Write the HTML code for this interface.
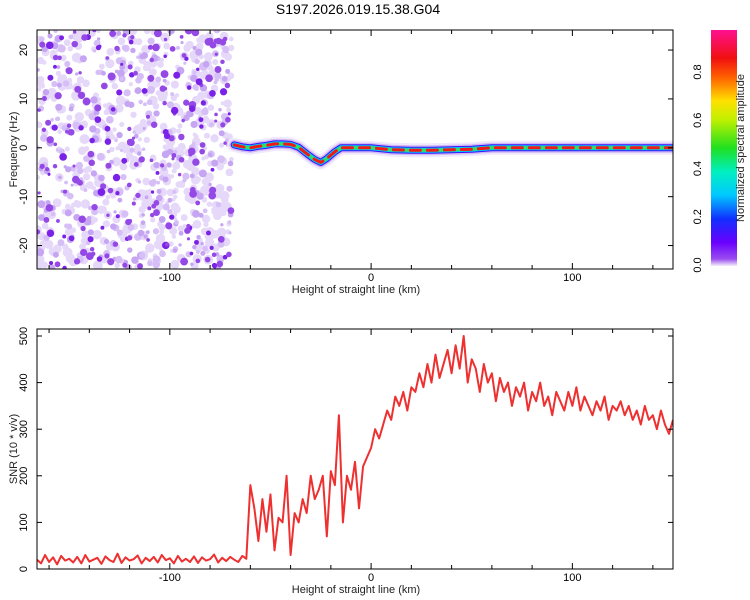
<!DOCTYPE html>
<html><head><meta charset="utf-8">
<style>
body{margin:0;background:#fff;}
svg{display:block;font-family:"Liberation Sans",sans-serif;}
</style></head>
<body>
<svg id="chart" width="750" height="600">
<defs>
<linearGradient id="cbar" x1="0" y1="1" x2="0" y2="0">
<stop offset="0" stop-color="#f4eefc"/><stop offset="0.03" stop-color="#9a4cf0"/>
<stop offset="0.1" stop-color="#6a00ff"/><stop offset="0.2" stop-color="#1030ff"/>
<stop offset="0.3" stop-color="#00c8ff"/><stop offset="0.4" stop-color="#00f0c0"/>
<stop offset="0.5" stop-color="#20e020"/><stop offset="0.62" stop-color="#c0f000"/>
<stop offset="0.7" stop-color="#ffe000"/><stop offset="0.8" stop-color="#ff6000"/>
<stop offset="0.88" stop-color="#f01010"/><stop offset="1" stop-color="#ff1090"/>
</linearGradient>
<clipPath id="clipTop"><rect x="37" y="30" width="636" height="239"/></clipPath>
<clipPath id="clipBot"><rect x="37" y="329" width="636" height="240"/></clipPath>
</defs>
<text x="358" y="14" font-size="14" text-anchor="middle">S197.2026.019.15.38.G04</text>
<g id="topPanel"></g>
<g id="botPanel"></g>
<g id="cbPanel"></g>
</svg>
<script>
// ---- data ----
const xTicks = [-100, 0, 100];
const freqTicks = [20, 10, 0, -10, -20];
const snrTicks = [0, 100, 200, 300, 400, 500];
const cbTicks = [0.0, 0.2, 0.4, 0.6, 0.8];
const trackHeight = [-68,-64,-60,-56,-52,-48,-44,-40,-36,-32,-28,-25,-22,-18,-15,-10,-5,0,10,20,30,40,50,60,70,80,90,100,110,120,130,140,150];
const trackFreq =   [0.6,0.2,0,0.3,0.5,0.8,0.8,0.7,0.1,-1.2,-2.4,-3.0,-2.2,-0.8,0,0,0,0,-0.4,-0.5,-0.5,-0.4,-0.3,0,0,0,0,0,0,0,0,0,0];
const snrHeight0 = -166, snrStep = 2;
const snrValues = [20,12,30,15,25,10,28,18,22,14,26,12,30,16,20,24,11,27,19,15,33,13,25,18,21,29,12,24,17,26,14,30,19,23,12,28,16,22,15,27,13,25,18,21,31,14,24,17,26,20,15,28,22,
180,130,60,150,80,160,40,110,100,200,30,120,100,150,120,200,150,170,200,70,210,180,330,100,200,170,230,130,220,240,260,300,280,310,340,320,370,350,380,340,390,380,420,390,440,400,460,410,440,470,420,480,430,500,400,450,430,380,440,400,420,360,410,380,400,350,390,370,400,340,380,360,400,350,370,330,380,360,340,380,350,390,340,370,350,330,360,340,370,320,350,340,360,330,350,320,340,310,350,320,330,300,340,310,290,320];

const NS='http://www.w3.org/2000/svg';
function mk(tag, attrs, parent){const e=document.createElementNS(NS,tag);for(const k in attrs)e.setAttribute(k,attrs[k]);parent.appendChild(e);return e;}
const X0=37,X1=673,XMIN=-166,XMAX=150;
const xs=v=>X0+(v-XMIN)/(XMAX-XMIN)*(X1-X0);
const fy=f=>30+(24.1-f)/(24.1+24.8)*239;
const sy=s=>569-s*0.466;
const topG=document.getElementById('topPanel'), botG=document.getElementById('botPanel'), cbG=document.getElementById('cbPanel');

// ---- noise texture (left region of spectrogram) ----
const noise=mk('g',{'clip-path':'url(#clipTop)'},topG);


let seed=7;const rnd=()=>{seed=(seed*16807)%2147483647;return seed/2147483647;};
const NX1=xs(-69);
for(let i=0;i<520;i++){const x=X0+rnd()*(NX1-X0),y=30+rnd()*239;
 mk('circle',{cx:x,cy:y,r:2+rnd()*3,fill:'#e6d8f9'},noise);}
for(let i=0;i<300;i++){const x=X0+rnd()*(NX1-X0),y=30+rnd()*239;
 mk('circle',{cx:x,cy:y,r:1.5+rnd()*2.5,fill:rnd()<0.5?'#c6a6f2':'#d6bef6'},noise);}
for(let i=0;i<220;i++){const x=X0+rnd()*(NX1-X0),y=30+rnd()*239;
 mk('circle',{cx:x,cy:y,r:1.5+rnd()*2.5,fill:rnd()<0.7?'#9448e6':'#7a22e8'},noise);}

// ---- frequency track ----
const pts=trackHeight.map((h,i)=>xs(h)+','+fy(trackFreq[i])).join(' ');
const layers=[['#f0e8fb',14],['#d2b8f4',10],['#3a10ff',7],['#00c8f0',5],['#30e060',3]];
layers.forEach((l,i)=>{const p=mk('polyline',{points:pts,fill:'none',stroke:l[0],'stroke-width':l[1],'stroke-linejoin':'round','stroke-linecap':'round','clip-path':'url(#clipTop)'},topG);
 
 });
const core=mk('polyline',{points:pts,fill:'none',stroke:'#f01818','stroke-width':3,'stroke-dasharray':'10 7','stroke-linecap':'round','clip-path':'url(#clipTop)'},topG);



// ---- axes frames ----
function frame(g,y0,y1,yTicks,yf,ylabel,name){
 const r=mk('rect',{x:X0,y:y0,width:X1-X0,height:y1-y0,fill:'none',stroke:'#000','stroke-width':1},g);
 
 
 for(let v=-160;v<=150;v+=20){const x=xs(v),len=(v%100===0)?6:4;
  mk('line',{x1:x,y1:y1,x2:x,y2:y1-len,stroke:'#000'},g);mk('line',{x1:x,y1:y0,x2:x,y2:y0+len,stroke:'#000'},g);}
 xTicks.forEach(v=>{const t=mk('text',{x:xs(v),y:y1+12,'font-size':11,'text-anchor':'middle'},g);t.textContent=v;
  
  });
 const xl=mk('text',{x:356,y:y1+24,'font-size':11,'text-anchor':'middle',fill:'#222'},g);xl.textContent='Height of straight line (km)';
 
 
 yTicks.forEach(v=>{const y=yf(v);mk('line',{x1:X0,y1:y,x2:X0+5,y2:y,stroke:'#000'},g);mk('line',{x1:X1,y1:y,x2:X1-5,y2:y,stroke:'#000'},g);
  const t=mk('text',{x:27,y:y,'font-size':11,'text-anchor':'middle',transform:`rotate(-90 27 ${y})`},g);t.textContent=v;
  
  });
 const ym=(y0+y1)/2;const yl=mk('text',{x:13,y:ym+4,'font-size':11,'text-anchor':'middle',transform:`rotate(-90 13 ${ym})`,fill:'#222'},g);yl.textContent=ylabel;
 
 
}
frame(topG,30,269,freqTicks,fy,'Frequency (Hz)','spectrogram');

// ---- SNR line ----
const spts=snrValues.map((s,i)=>xs(snrHeight0+i*snrStep)+','+sy(s)).join(' ');
const sl=mk('polyline',{points:spts,fill:'none',stroke:'#ee3030','stroke-width':2,'stroke-linejoin':'round','clip-path':'url(#clipBot)'},botG);


frame(botG,329,569,snrTicks,sy,'SNR (10 * v/v)','snr');

// ---- colorbar ----
const cbr=mk('rect',{x:711,y:30,width:26,height:236,fill:'url(#cbar)'},cbG);


const cy=v=>265-v*(265-72)/0.8;
cbTicks.forEach(v=>{const y=cy(v);const t=mk('text',{x:701,y:y,'font-size':11,'text-anchor':'middle',transform:`rotate(-90 701 ${y})`},cbG);t.textContent=v.toFixed(1);
 
 });
const cl=mk('text',{x:744,y:148,'font-size':11,'text-anchor':'middle',transform:'rotate(-90 744 148)',fill:'#222'},cbG);cl.textContent='Normalized spectral amplitude';


</script>
</body></html>
